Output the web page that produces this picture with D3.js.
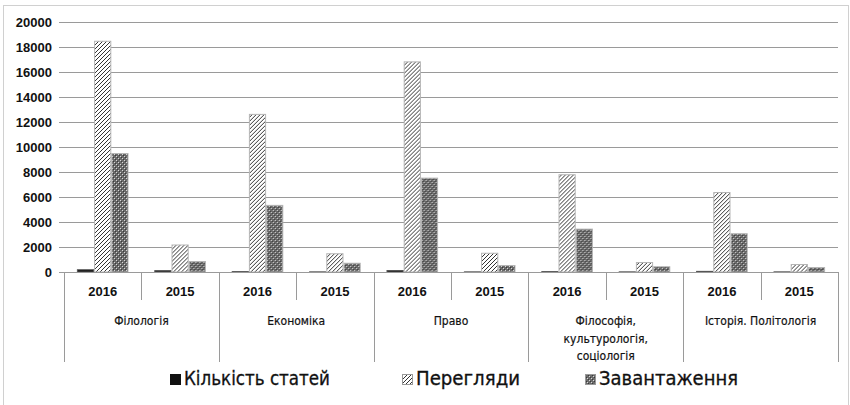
<!DOCTYPE html>
<html><head><meta charset="utf-8">
<script src="https://cdn.jsdelivr.net/npm/d3@7"></script>
<style>
html,body{margin:0;padding:0;background:#fff;}
svg{display:block;}
</style></head>
<body>
<svg id="chart" width="850" height="405"></svg>
<script>
const groups = ["Філологія", "Економіка", "Право", "Філософія, культурологія, соціологія", "Історія. Політологія"];
const groupLines = [["Філологія"], ["Економіка"], ["Право"], ["Філософія,", "культурологія,", "соціологія"], ["Історія. Політологія"]];
const years = ["2016", "2015"];
const seriesNames = ["Кількість статей", "Перегляди", "Завантаження"];
// values per (group, year) in order: Філ 2016, Філ 2015, Ек 2016, Ек 2015, ...
const articles  = [220, 150, 70, 50, 160, 50, 70, 50, 90, 50];
const views     = [18500, 2200, 12650, 1500, 16850, 1540, 7820, 800, 6400, 640];
const downloads = [9520, 880, 5370, 740, 7550, 560, 3470, 460, 3100, 400];
const yTicks = [0, 2000, 4000, 6000, 8000, 10000, 12000, 14000, 16000, 18000, 20000];

(function(){
const svg = d3.select("#chart");
const defs = svg.append("defs");
const ph = defs.append("pattern").attr("id","hatch").attr("patternUnits","userSpaceOnUse")
  .attr("width",4).attr("height",4);
ph.append("rect").attr("width",4).attr("height",4).attr("fill","#fff");
ph.append("path").attr("d","M-1,1 l2,-2 M0,4 l4,-4 M3,5 l2,-2").attr("stroke","#333").attr("stroke-width",1);
const pd = defs.append("pattern").attr("id","dots").attr("patternUnits","userSpaceOnUse")
  .attr("width",4).attr("height",4);
pd.append("rect").attr("width",4).attr("height",4).attr("fill","#6a6a6a");
pd.append("rect").attr("x",0).attr("y",0).attr("width",1).attr("height",1).attr("fill","#d8d8d8");
pd.append("rect").attr("x",2).attr("y",2).attr("width",1).attr("height",1).attr("fill","#d8d8d8");
pd.append("rect").attr("x",1).attr("y",1).attr("width",1).attr("height",1).attr("fill","#3a3a3a");
pd.append("rect").attr("x",3).attr("y",3).attr("width",1).attr("height",1).attr("fill","#3a3a3a");

const fills = ["#111", "url(#hatch)", "url(#dots)"];
const strokes = ["#555", "#b5b5b5", "#b5b5b5"];

svg.append("rect").attr("x",3.5).attr("y",5.5).attr("width",845).attr("height",405)
  .attr("fill","none").attr("stroke","#d0d0d0");

const pLeft = 64, pRight = 838, pTop = 22, base = 272;
const slots = d3.range(groups.length * years.length);
const x = d3.scaleBand().domain(slots).range([pLeft, pRight]).padding(0);
const inner = d3.scaleBand().domain([0,1,2]).range([0, x.bandwidth()]).paddingOuter(0.75).paddingInner(0);
const y = d3.scaleLinear().domain([0, 20000]).range([base, pTop]);

const yAxis = d3.axisLeft(y).tickValues(yTicks).tickSize(-(pRight-pLeft)).tickSizeOuter(0).tickPadding(12)
  .tickFormat(d3.format("d"));
const ga = svg.append("g").attr("transform",`translate(${pLeft},0)`).call(yAxis);
ga.select(".domain").remove();
ga.selectAll(".tick line").attr("stroke","#9a9a9a").attr("x1",-5);
ga.selectAll(".tick text").attr("fill","#111").attr("font-family","'Liberation Sans', Arial, sans-serif")
  .attr("font-weight","bold").attr("font-size","13px");

const data = slots.map(i => [articles[i], views[i], downloads[i]]);
const gSlot = svg.append("g").selectAll("g").data(data).join("g")
  .attr("transform",(d,i)=>`translate(${x(i)},0)`);
gSlot.selectAll("rect").data(d=>d).join("rect")
  .attr("x",(d,j)=>inner(j)+0.5)
  .attr("y",d=>y(d)+0.5)
  .attr("width",inner.bandwidth()-1)
  .attr("height",d=>Math.max(0, base - y(d) - 0.5))
  .attr("fill",(d,j)=>fills[j])
  .attr("stroke",(d,j)=>strokes[j]).attr("stroke-width",1);

const axisG = svg.append("g");
axisG.append("line").attr("x1",pLeft).attr("x2",pRight).attr("y1",base+0.5).attr("y2",base+0.5).attr("stroke","#9a9a9a");
slots.forEach(i => {
  if (i % 2 === 1) {
    const xx = Math.round(x(i)) + 0.5;
    axisG.append("line").attr("x1",xx).attr("x2",xx).attr("y1",base).attr("y2",300).attr("stroke","#9a9a9a");
  }
});
d3.range(groups.length + 1).forEach(k => {
  const xx = Math.round(k < groups.length ? x(k*2) : pRight) + 0.5;
  axisG.append("line").attr("x1",xx).attr("x2",xx).attr("y1",base).attr("y2",362).attr("stroke","#9a9a9a");
});
svg.append("g").selectAll("text").data(slots).join("text")
  .attr("x",i=>x(i)+x.bandwidth()/2).attr("y",296)
  .attr("text-anchor","middle").attr("font-family","'Liberation Sans', Arial, sans-serif")
  .attr("font-weight","bold").attr("font-size","13px").attr("fill","#111")
  .text(i=>years[i%2]);
const gl = svg.append("g").selectAll("text").data(groupLines).join("text")
  .attr("x",(d,k)=>x(k*2)+x.bandwidth())
  .attr("y",325)
  .attr("text-anchor","middle").attr("font-family","'DejaVu Sans Condensed','DejaVu Sans', sans-serif")
  .attr("font-size","12px").attr("fill","#111").attr("stroke","#111").attr("stroke-width",0.2);
gl.each(function(lines,k){
  d3.select(this).selectAll("tspan").data(lines).join("tspan")
    .attr("x",x(k*2)+x.bandwidth()).attr("dy",(d,j)=>j===0?0:17.5).text(d=>d);
});

const legX = [170, 402, 585];
const legW = [146, 104, 139];
const leg = svg.append("g").selectAll("g").data(seriesNames).join("g")
  .attr("transform",(d,j)=>`translate(${legX[j]},0)`);
leg.append("rect").attr("x",0.5).attr("y",374.5).attr("width",10).attr("height",10)
  .attr("fill",(d,j)=>fills[j]).attr("stroke",(d,j)=>j===0?"#111":"#999");
leg.append("text").attr("x",14).attr("y",385)
  .attr("font-family","'DejaVu Sans Condensed','DejaVu Sans', sans-serif")
  .attr("font-size","20px").attr("fill","#111").attr("stroke","#111").attr("stroke-width",0.3)
  .attr("textLength",(d,j)=>legW[j]).attr("lengthAdjust","spacingAndGlyphs")
  .text(d=>d);
})();
</script>
</body></html>
